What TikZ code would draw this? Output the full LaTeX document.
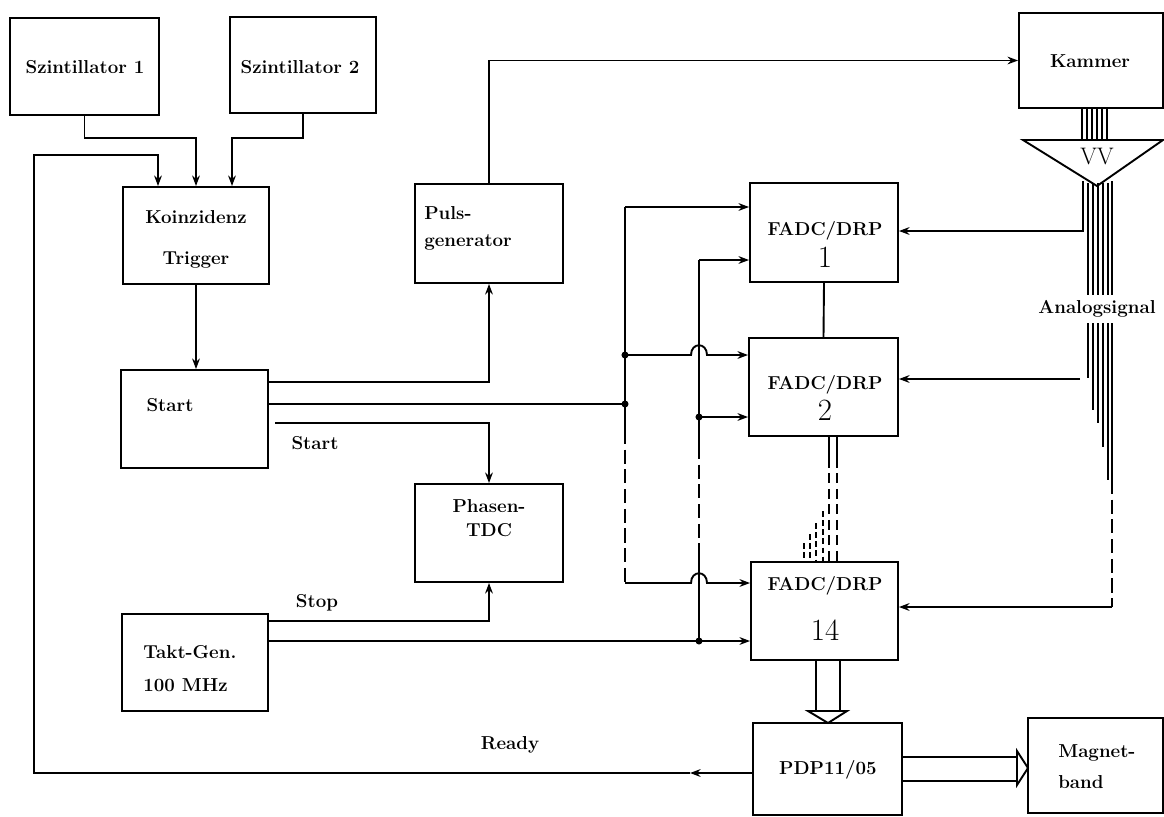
\documentclass[tikz,border=0pt]{standalone}
\usetikzlibrary{fit,calc,arrows.meta}
\tikzset{
 box/.style={draw, line width=1.35pt, inner sep=0pt},
 ln/.style={line width=1.35pt},
 wire/.style={line width=1pt},
 arr/.style={ln, -{Stealth[length=7.5pt,width=5.5pt]}},
 lbl/.style={font=\fontsize{13.3}{15}\bfseries\selectfont, inner sep=0pt},
 num/.style={font=\fontsize{22}{24}\selectfont, inner sep=0pt},
 dotnode/.style={circle, fill, inner sep=0pt, minimum size=5pt},
 dsh/.style={ln, dash pattern=on 10pt off 4pt},
 fan/.style={line width=1.1pt, dash pattern=on 4pt off 2.5pt},
}
\begin{document}
\begin{tikzpicture}[x=0.025cm,y=-0.025cm,line join=miter]
\useasboundingbox (0,0) rectangle (1164,816);
% ---------- boxes
\node[box, fit={(10,18) (159,115)}] (sz1) {};
\node[box, fit={(230,17) (376,113)}] (sz2) {};
\node[box, fit={(123,187) (269,284)}] (koinz) {};
\node[box, fit={(415,184) (563,283)}] (puls) {};
\node[box, fit={(1019,13) (1163,108)}] (kammer) {};
\node[box, fit={(121,370) (268,468)}] (start) {};
\node[box, fit={(415,484) (563,582)}] (tdc) {};
\node[box, fit={(122,614) (268,711)}] (takt) {};
\node[box, fit={(750,183) (898,282)}] (f1) {};
\node[box, fit={(749,338) (898,436)}] (f2) {};
\node[box, fit={(751,562) (898,660)}] (f14) {};
\node[box, fit={(753,723) (902,815)}] (pdp) {};
\node[box, fit={(1028,718) (1163,813)}] (mb) {};
% ---------- texts
\node[lbl] (tsz1) at (85,67) {Szintillator 1};
\node[lbl] (tsz2) at (300,67) {Szintillator 2};
\node[lbl] (tk1) at (196,217) {Koinzidenz};
\node[lbl] (tk2) at (196,260) {Trigger};
\node[lbl, anchor=west] (tp1) at (424,213) {Puls-};
\node[lbl, anchor=west] (tp2) at (424,242) {generator};
\node[lbl] (tkam) at (1090,61) {Kammer};
\node[lbl] (tst) at (170,405) {Start};
\node[lbl] (tst2) at (315,443) {Start};
\node[lbl] (tph1) at (489,506) {Phasen-};
\node[lbl] (tph2) at (489,530) {TDC};
\node[lbl] (tstop) at (317,603) {Stop};
\node[lbl, anchor=west] (tt1) at (143,652) {Takt-Gen.};
\node[lbl, anchor=west] (tt2) at (143,685) {100 MHz};
\node[lbl] (tf1) at (825,231) {FADC/DRP};
\node[num] (nf1) at (825,257) {1};
\node[lbl] (tf2) at (825,385) {FADC/DRP};
\node[num] (nf2) at (825,410) {2};
\node[lbl] (tf14) at (825,586) {FADC/DRP};
\node[num] (nf14) at (825,630) {14};
\node[lbl] (tana) at (1097,309) {Analogsignal};
\node[font=\fontsize{17}{19}\selectfont, inner sep=0pt] (tvv) at (1097,157) {VV};
\node[lbl] (trdy) at (510,745) {Ready};
\node[lbl] (tpdp) at (828,770) {PDP11/05};
\node[lbl, anchor=west] (tmb1) at (1058,753) {Magnet-};
\node[lbl, anchor=west] (tmb2) at (1058,782) {band};
% ---------- dots
\node[dotnode] (dA1) at (625,355) {};
\node[dotnode] (dA2) at (625,404) {};
\node[dotnode] (dB1) at (699,417) {};
\node[dotnode] (dB2) at (699,641) {};
% ---------- trigger part
\draw[arr] (sz1.south) -- ++(0,22) -| (koinz.north);
\draw[arr] (sz2.south) -- ++(0,24) -| ($(koinz.north)+(36,0)$);
\draw[arr] (koinz.south) -- (koinz.south |- start.north);
\coordinate (rdy) at (690,773);
\draw[arr] (pdp.west |- rdy) -- (rdy);
\draw[arr] (rdy) -- (34,773) -- (34,155) -| ($(koinz.north)+(-38,0)$);
% start outputs
\coordinate (s1) at (268,382);
\draw[arr] (s1) -| (puls.south);
\draw[ln] (start.east |- dA2) -- (dA2.center);
\coordinate (s3) at (275,423);
\draw[arr] (s3) -| (tdc.north);
\draw[arr] (puls.north) |- (kammer.west);
% takt
\coordinate (st) at (268,621);
\draw[arr] (st) -| (tdc.south);
\draw[arr] (takt.east |- dB2) -- (f14.west |- dB2);
% ---------- bus A
\coordinate (a0) at (625,207);
\coordinate (a1) at (625,430);
\coordinate (a2) at (625,583);
\draw[arr] (a0) -- (f1.west |- a0);
\draw[ln] (a0) -- (a1);
\draw[dsh] (a1) -- (a2);
\draw[arr] (a2) -- (691,583) .. controls (691,570) and (707,570) .. (707,583) -- (f14.west |- a2);
\draw[arr] (dA1.center) -- (691,355) .. controls (691,342) and (707,342) .. (707,355) -- (f2.west |- dA1);
% ---------- bus B
\coordinate (b0) at (699,260);
\coordinate (b1) at (699,445);
\coordinate (b2) at (699,547);
\draw[arr] (b0) -- (f1.west |- b0);
\draw[ln] (b0) -- (b1);
\draw[dsh] (b1) -- (b2);
\draw[ln] (b2) -- (dB2.center);
\draw[arr] (dB1.center) -- (f2.west |- dB1);
% ---------- FADC links
\draw[ln] (f1.south) -- (f2.south |- f2.north);
\foreach \x in {829,837}{
  \draw[ln] (\x,436) -- (\x,458);
  \draw[ln, dash pattern=on 7pt off 4pt] (\x,458) -- (\x,562);
}
\foreach \x/\s in {804/543, 810/534, 816/523, 823/511}{
  \draw[fan] (\x,\s) -- (\x,562);
}
% wide arrow FADC14 -> PDP
\draw[ln] (816,660) -- (816,711);
\draw[ln] (840,660) -- (840,711);
\draw[ln] (808,711) -- (847,711) -- (828,723) -- cycle;
% wide arrow PDP -> Magnetband
\draw[ln] (902,757) -- (1017,757);
\draw[ln] (902,781) -- (1017,781);
\draw[ln] (1017,751) -- (1017,785) -- (1028,768) -- cycle;
% ---------- Kammer, VV, wires
\draw[ln] (1023,140) -- (1163,140) -- (1097,186) -- cycle;
\foreach \x in {1082,1087,1092,1097,1102,1107}{
  \draw[wire] (\x,108) -- (\x,140);
}
\coordinate (w1) at (1083,231);
\draw[arr] (1083,181) -- (w1) -- (f1.east |- w1);
\foreach \x/\e in {1088/378, 1093/410, 1098/423, 1103/447, 1108/480}{
  \draw[wire] (\x,183) -- (\x,295);
  \draw[wire] (\x,323) -- (\x,\e);
}
\draw[wire] (1112,181) -- (1112,295);
\draw[wire] (1112,323) -- (1112,480);
\draw[ln, dash pattern=on 10pt off 4pt] (1112,480) -- (1112,607);
\coordinate (w14) at (1112,607);
\draw[arr] (w14) -- (f14.east |- w14);
\coordinate (w2) at (1080,379);
\draw[arr] (w2) -- (f2.east |- w2);
\end{tikzpicture}
\end{document}
